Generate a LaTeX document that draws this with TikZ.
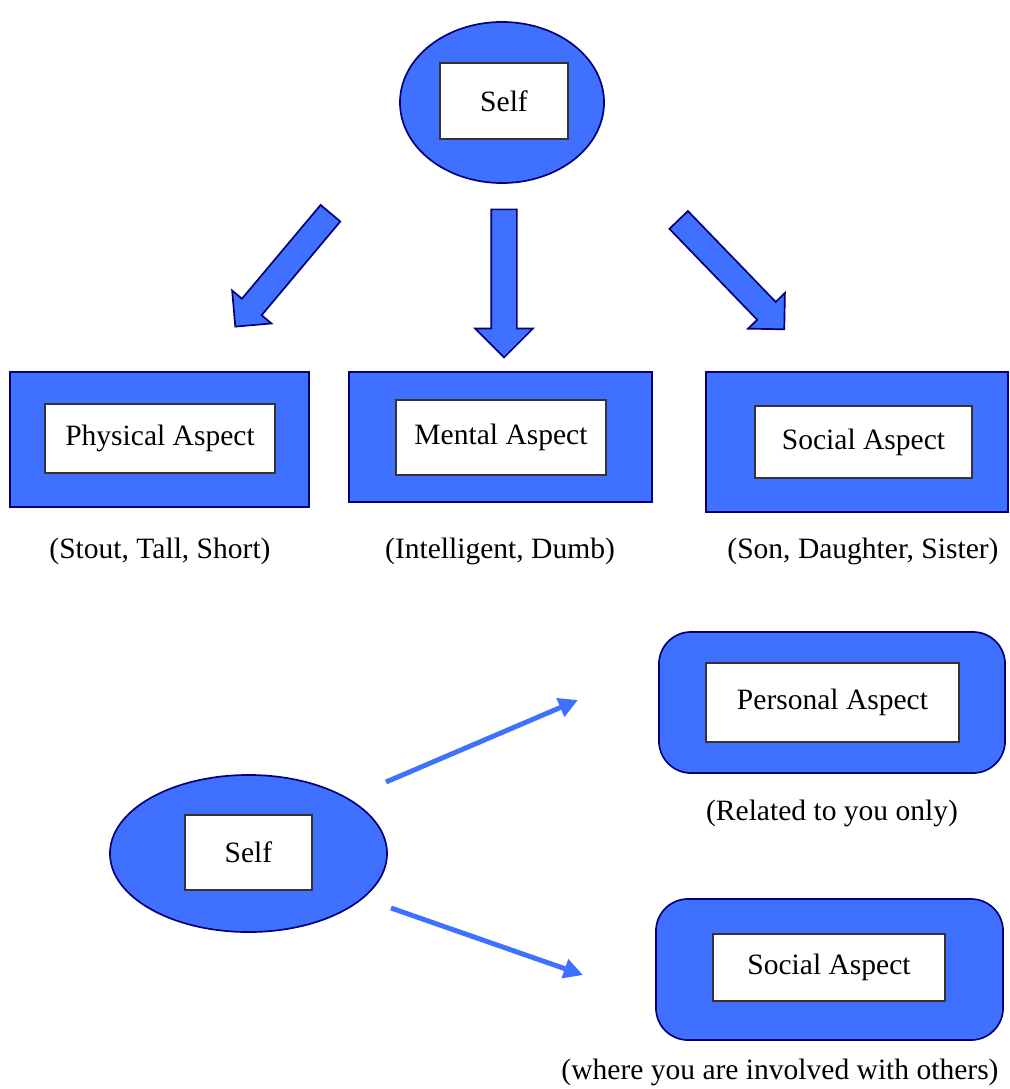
\documentclass[tikz,border=0pt]{standalone}
\usepackage{fontspec}
\setmainfont{Liberation Serif}
\usetikzlibrary{shapes.geometric, shapes.arrows, arrows.meta}
\definecolor{aspectblue}{RGB}{64,112,255}
\definecolor{aspectnavy}{RGB}{0,0,120}
\tikzstyle{selfoval} = [ellipse, draw=aspectnavy, line width=1.2pt, fill=aspectblue, inner sep=0pt]
\tikzstyle{outerbox} = [rectangle, draw=aspectnavy, line width=1.2pt, fill=aspectblue, inner sep=0pt]
\tikzstyle{roundbox} = [outerbox, rounded corners=0.8cm]
\tikzstyle{innerbox} = [rectangle, draw=black!80, line width=0.9pt, fill=white, inner sep=0pt, text centered, font=\rmfamily\fontsize{21}{25}\selectfont]
\tikzstyle{aspectnote} = [font=\rmfamily\fontsize{21}{25}\selectfont, inner sep=0pt]
\tikzstyle{fatarrow} = [single arrow, draw=aspectnavy, line width=1.2pt, fill=aspectblue, inner xsep=0pt, inner ysep=0.3cm, single arrow head extend=0.32cm]
\tikzstyle{arrow} = [draw=aspectblue, line width=3.5pt, -{Triangle[length=0.48cm, width=0.48cm]}]

\begin{document}
\begin{tikzpicture}[x=0.025cm, y=-0.025cm]
\useasboundingbox (0,0) rectangle (1009,1089);

%% parte de arriba
\node (self) [selfoval, minimum width=5.1cm, minimum height=4.025cm] at (502,102.5) {};
\node (selftxt) [innerbox, minimum width=3.2cm, minimum height=1.9cm] at (504,101) {Self};

\node (phys) [outerbox, minimum width=7.475cm, minimum height=3.375cm] at (159.5,439.5) {};
\node (phystxt) [innerbox, minimum width=5.75cm, minimum height=1.725cm] at (160,438.5) {Physical Aspect};
\node (ment) [outerbox, minimum width=7.575cm, minimum height=3.25cm] at (500.5,437) {};
\node (menttxt) [innerbox, minimum width=5.25cm, minimum height=1.875cm] at (501,437.5) {Mental Aspect};
\node (soc) [outerbox, minimum width=7.55cm, minimum height=3.5cm] at (857,442) {};
\node (soctxt) [innerbox, minimum width=5.425cm, minimum height=1.8cm] at (863.5,442) {Social Aspect};

\node (physnote) [aspectnote] at (160,551) {(Stout, Tall, Short)};
\node (mentnote) [aspectnote] at (500,551) {(Intelligent, Dumb)};
\node (socnote) [aspectnote] at (863,551) {(Son, Daughter, Sister)};

%% las flechas gruesas
\node (toPhys) [fatarrow, minimum height=3.7cm, rotate=230] at (287,265) {};
\node (toMent) [fatarrow, minimum height=3.7cm, single arrow head extend=0.4cm, rotate=-90] at (504,277) {};
\node (toSoc) [fatarrow, minimum height=3.8cm, rotate=-46] at (727,270) {};

%% parte de abajo
\node (self2) [selfoval, minimum width=6.925cm, minimum height=3.925cm] at (248.5,853.5) {};
\node (self2txt) [innerbox, minimum width=3.175cm, minimum height=1.875cm] at (248.5,852.5) {Self};

\node (pers) [roundbox, minimum width=8.65cm, minimum height=3.525cm] at (832,702.5) {};
\node (perstxt) [innerbox, minimum width=6.325cm, minimum height=1.975cm] at (832.5,702.5) {Personal Aspect};
\node (persnote) [aspectnote] at (832,813) {(Related to you only)};

\node (soc2) [roundbox, minimum width=8.675cm, minimum height=3.525cm] at (829.5,969.5) {};
\node (soc2txt) [innerbox, minimum width=5.8cm, minimum height=1.675cm] at (829,967.5) {Social Aspect};
\node (soc2note) [aspectnote] at (780,1072) {(where you are involved with others)};

\coordinate (persFrom) at (386,782);
\coordinate (persTo) at (578,700);
\coordinate (socFrom) at (391,908);
\coordinate (socTo) at (583,975);
\draw [arrow] (persFrom) -- (persTo);
\draw [arrow] (socFrom) -- (socTo);

\end{tikzpicture}
\end{document}
